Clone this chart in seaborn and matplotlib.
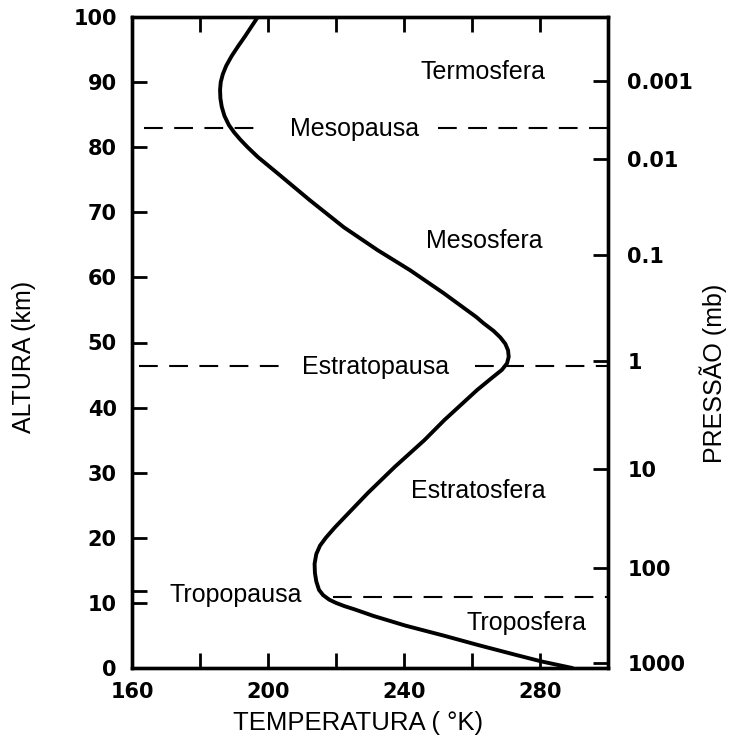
import matplotlib
matplotlib.use("Agg")
import matplotlib.pyplot as plt
import seaborn as sns
import pandas as pd

# ---- data ----
altitude_km = [0.0, 1.0, 2.0, 3.5, 5.0, 6.5, 8.0, 9.0, 9.5, 10.0, 10.5, 11.2,
               12.0, 13.3, 14.6, 16.0, 17.5, 18.8, 20.0, 21.5, 23.2, 26.9, 30.9,
               35.0, 38.1, 42.7, 44.5, 45.8, 46.8, 47.8, 48.8, 49.8, 50.8, 51.8,
               53.0, 53.9, 57.6, 61.1, 64.2, 67.7, 71.9, 76.0, 78.5, 80.0, 81.2,
               82.3, 83.4, 84.8, 86.2, 87.5, 88.8, 90.0, 91.2, 92.5, 94.0, 95.5,
               97.0, 98.5, 100.0]
temperature_K = [289.5, 280.5, 273.0, 262.0, 251.5, 240.5, 231.0, 225.5, 222.5,
                 220.0, 218.0, 216.2, 215.0, 214.2, 213.8, 213.7, 214.2, 215.3,
                 217.0, 219.5, 222.6, 229.4, 237.3, 246.0, 251.9, 261.5, 265.7,
                 268.8, 270.3, 270.8, 270.6, 269.8, 268.3, 266.3, 263.3, 261.3,
                 251.6, 241.8, 232.2, 222.3, 212.2, 202.8, 197.0, 194.0, 191.8,
                 190.0, 188.5, 187.2, 186.4, 186.0, 185.9, 186.1, 186.7, 187.7,
                 189.3, 191.2, 193.2, 195.1, 197.0]

altitude_ticks = [0, 10, 20, 30, 40, 50, 60, 70, 80, 90, 100]
temp_ticks = [160, 200, 240, 280]
temp_minor_ticks = [180, 220, 260]

pressure_labels = ["0.001", "0.01", "0.1", "1", "10", "100", "1000"]
pressure_heights = [90.2, 78.2, 63.4, 47.2, 30.6, 15.4, 0.8]

# layer boundaries (altitude) and dashed segments (temperature extents)
boundary_names = ["Mesopausa", "Estratopausa", "Tropopausa"]
boundary_heights = [83.0, 46.4, 10.9]
boundary_segments = [[(163.5, 198.0), (250.0, 300.0)],
                     [(162.0, 205.0), (261.0, 300.0)],
                     [(219.0, 300.0)]]

# labels: (text, temperature, altitude)
layer_labels = ["Termosfera", "Mesosfera", "Estratosfera", "Troposfera"]
layer_label_T = [263.1, 263.7, 261.9, 276.0]
layer_label_h = [91.6, 65.6, 27.2, 6.9]
boundary_label_T = [225.4, 231.5, 190.5]
boundary_label_h = [82.8, 46.2, 11.2]

# ---- styling ----
sns.set_theme(style="ticks")
plt.rcParams["font.family"] = ["Liberation Sans", "DejaVu Sans"]

fig = plt.figure(figsize=(7.32, 7.44), dpi=100, facecolor="white")
ax = fig.add_axes([132 / 732, 1 - 668 / 744, 476 / 732, 651 / 744])
ax.set_facecolor("white")

df = pd.DataFrame({"T": temperature_K, "h": altitude_km})
sns.lineplot(data=df, x="T", y="h", sort=False, estimator=None,
             color="black", linewidth=2.8, ax=ax)

for h, segs in zip(boundary_heights, boundary_segments):
    for (x0, x1) in segs:
        ax.plot([x0, x1], [h, h], color="black", linewidth=1.5,
                linestyle=(0, (9, 5.5)), solid_capstyle="butt")

text_kw = dict(ha="center", va="center", fontsize=18, color="black",
               family=["Liberation Sans", "DejaVu Sans"])
for name, t, h in zip(layer_labels, layer_label_T, layer_label_h):
    ax.text(t, h, name, **text_kw)
for name, t, h in zip(boundary_names, boundary_label_T, boundary_label_h):
    ax.text(t, h, name, **text_kw)

ax.set_xlim(160, 300)
ax.set_ylim(0, 100)
ax.set_xticks(temp_ticks)
ax.set_xticks(temp_minor_ticks, minor=True)
ax.set_yticks(altitude_ticks)
ax.set_yticks([11.8], minor=True)

tick_font = dict(family="DejaVu Sans", weight="bold", size=15)
ax.set_xticklabels([str(t) for t in temp_ticks], fontdict=tick_font)
ax.set_yticklabels([str(t) for t in altitude_ticks], fontdict=tick_font)

ax.tick_params(axis="x", which="both", direction="in", top=True, bottom=True,
               length=11, width=2, pad=10, colors="black")
ax.tick_params(axis="y", which="both", direction="in", left=True, right=False,
               length=11, width=2, pad=11, colors="black")

for s in ax.spines.values():
    s.set_linewidth(2.4)
    s.set_color("black")

ax.set_xlabel("TEMPERATURA ( °K)", fontsize=18.5, color="black")
ax.xaxis.set_label_coords(0.475, -0.066)
ax.set_ylabel("ALTURA (km)", fontsize=18, color="black")
ax.yaxis.set_label_coords(-0.202, 0.478)

ax2 = ax.twinx()
ax2.set_ylim(0, 100)
ax2.set_yticks(pressure_heights)
ax2.set_yticklabels(pressure_labels, fontdict=tick_font)
ax2.tick_params(axis="y", direction="in", length=11, width=2, pad=14, colors="black")
for s in ax2.spines.values():
    s.set_linewidth(2.4)
    s.set_color("black")
ax2.set_ylabel("PRESSÃO (mb)", fontsize=18, color="black")
ax2.yaxis.set_label_coords(1.192, 0.453)

fig.savefig("out.png", dpi=100, facecolor="white")
